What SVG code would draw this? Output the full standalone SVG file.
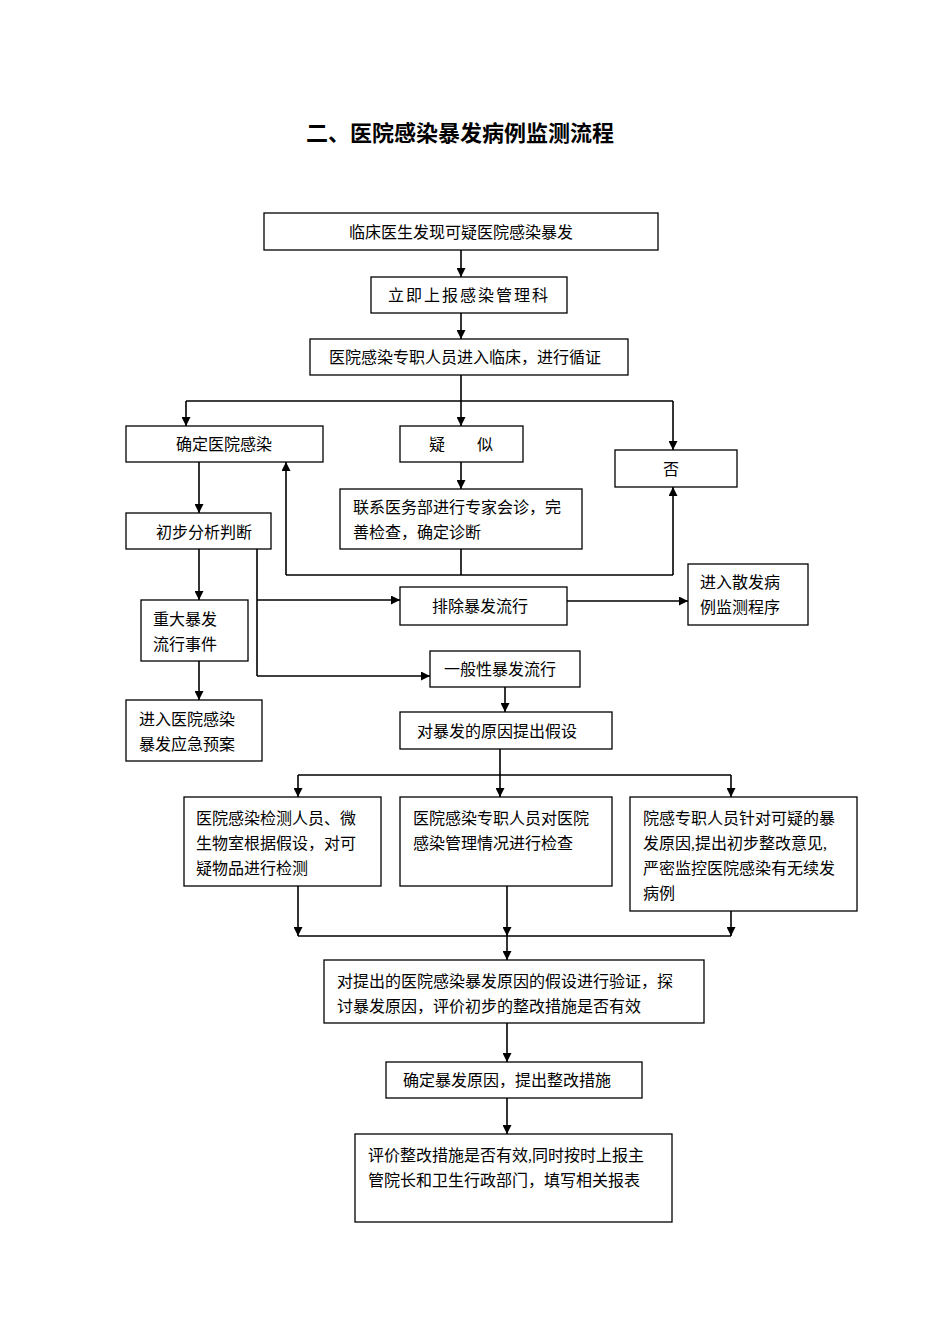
<svg xmlns="http://www.w3.org/2000/svg" width="950" height="1344" viewBox="0 0 950 1344">
<defs>
<marker id="a" viewBox="0 0 10 10" refX="10" refY="5" markerWidth="9" markerHeight="9" markerUnits="userSpaceOnUse" orient="auto"><path d="M0,0L10,5L0,10z" fill="#000"/></marker>
<style>
rect{fill:#fff;stroke:#000;stroke-width:1.3}
text{font-family:"Liberation Serif","Noto Sans CJK SC",serif;font-size:16px;fill:#000}
.c{text-anchor:middle}
.l{fill:none;stroke:#000;stroke-width:1.6}
.ar{fill:none;stroke:#000;stroke-width:1.6;marker-end:url(#a)}
</style>
</defs>
<rect x="0" y="0" width="950" height="1344" style="stroke:none"/>
<text x="460" y="141" class="c" style="font-size:22px;font-weight:bold;font-family:'Noto Sans CJK SC',sans-serif">二、医院感染暴发病例监测流程</text>
<g id="connectors">
<path class="ar" d="M461,250V277"/>
<path class="ar" d="M461,313V339"/>
<path class="ar" d="M461,375V426"/>
<path class="l" d="M186,401H673"/>
<path class="ar" d="M186,401V426"/>
<path class="ar" d="M673,401V450"/>
<path class="ar" d="M461,462V489"/>
<path class="l" d="M461,549V575M286,575H673"/>
<path class="ar" d="M286,575V462"/>
<path class="ar" d="M673,575V487"/>
<path class="ar" d="M199,462V513"/>
<path class="ar" d="M199,549V600"/>
<path class="ar" d="M199,661V700"/>
<path class="l" d="M257,549V676"/>
<path class="ar" d="M257,600H400"/>
<path class="ar" d="M257,676H430"/>
<path class="ar" d="M567,601H688"/>
<path class="ar" d="M505,687V712"/>
<path class="l" d="M500,749V775M298,775H731"/>
<path class="ar" d="M298,775V797"/>
<path class="ar" d="M500,775V797"/>
<path class="ar" d="M731,775V797"/>
<path class="ar" d="M298,886V936"/>
<path class="ar" d="M507,886V936"/>
<path class="ar" d="M731,911V936"/>
<path class="l" d="M298,936H731"/>
<path class="ar" d="M507,936V960"/>
<path class="ar" d="M507,1023V1062"/>
<path class="ar" d="M507,1098V1134"/>
</g>
<g id="n1"><rect x="264" y="213" width="394" height="37"/><text x="461" y="238" class="c">临床医生发现可疑医院感染暴发</text></g>
<g id="n2"><rect x="371" y="277" width="196" height="36"/><text x="469" y="301" class="c" style="letter-spacing:2px">立即上报感染管理科</text></g>
<g id="n3"><rect x="310" y="339" width="318" height="36"/><text x="465" y="363" class="c">医院感染专职人员进入临床，进行循证</text></g>
<g id="n4"><rect x="126" y="426" width="197" height="36"/><text x="224" y="450" class="c">确定医院感染</text></g>
<g id="n5"><rect x="400" y="426" width="123" height="36"/><text x="461" y="450" class="c">疑　　似</text></g>
<g id="n6"><rect x="615" y="450" width="122" height="37"/><text x="671" y="475" class="c">否</text></g>
<g id="n7"><rect x="340" y="489" width="242" height="60"/><text x="353" y="513">联系医务部进行专家会诊，完</text><text x="353" y="538">善检查，确定诊断</text></g>
<g id="n8"><rect x="126" y="513" width="145" height="36"/><text x="204" y="538" class="c">初步分析判断</text></g>
<g id="n9"><rect x="141" y="600" width="107" height="61"/><text x="153" y="625">重大暴发</text><text x="153" y="650">流行事件</text></g>
<g id="n10"><rect x="126" y="700" width="136" height="61"/><text x="139" y="725">进入医院感染</text><text x="139" y="750">暴发应急预案</text></g>
<g id="n11"><rect x="400" y="587" width="167" height="38"/><text x="480" y="612" class="c">排除暴发流行</text></g>
<g id="n12"><rect x="688" y="564" width="120" height="61"/><text x="700" y="588">进入散发病</text><text x="700" y="613">例监测程序</text></g>
<g id="n13"><rect x="430" y="651" width="150" height="36"/><text x="500" y="675" class="c">一般性暴发流行</text></g>
<g id="n14"><rect x="400" y="712" width="212" height="37"/><text x="497" y="737" class="c">对暴发的原因提出假设</text></g>
<g id="n15"><rect x="184" y="797" width="197" height="89"/><text x="196" y="824">医院感染检测人员、微</text><text x="196" y="849">生物室根据假设，对可</text><text x="196" y="874">疑物品进行检测</text></g>
<g id="n16"><rect x="400" y="797" width="212" height="89"/><text x="413" y="824">医院感染专职人员对医院</text><text x="413" y="849">感染管理情况进行检查</text></g>
<g id="n17"><rect x="630" y="797" width="227" height="114"/><text x="643" y="824">院感专职人员针对可疑的暴</text><text x="643" y="849">发原因,提出初步整改意见,</text><text x="643" y="874">严密监控医院感染有无续发</text><text x="643" y="899">病例</text></g>
<g id="n18"><rect x="324" y="960" width="380" height="63"/><text x="337" y="987">对提出的医院感染暴发原因的假设进行验证，探</text><text x="337" y="1012">讨暴发原因，评价初步的整改措施是否有效</text></g>
<g id="n19"><rect x="386" y="1062" width="256" height="36"/><text x="507" y="1086" class="c">确定暴发原因，提出整改措施</text></g>
<g id="n20"><rect x="355" y="1134" width="317" height="88"/><text x="368" y="1161">评价整改措施是否有效,同时按时上报主</text><text x="368" y="1186">管院长和卫生行政部门，填写相关报表</text></g>
</svg>
